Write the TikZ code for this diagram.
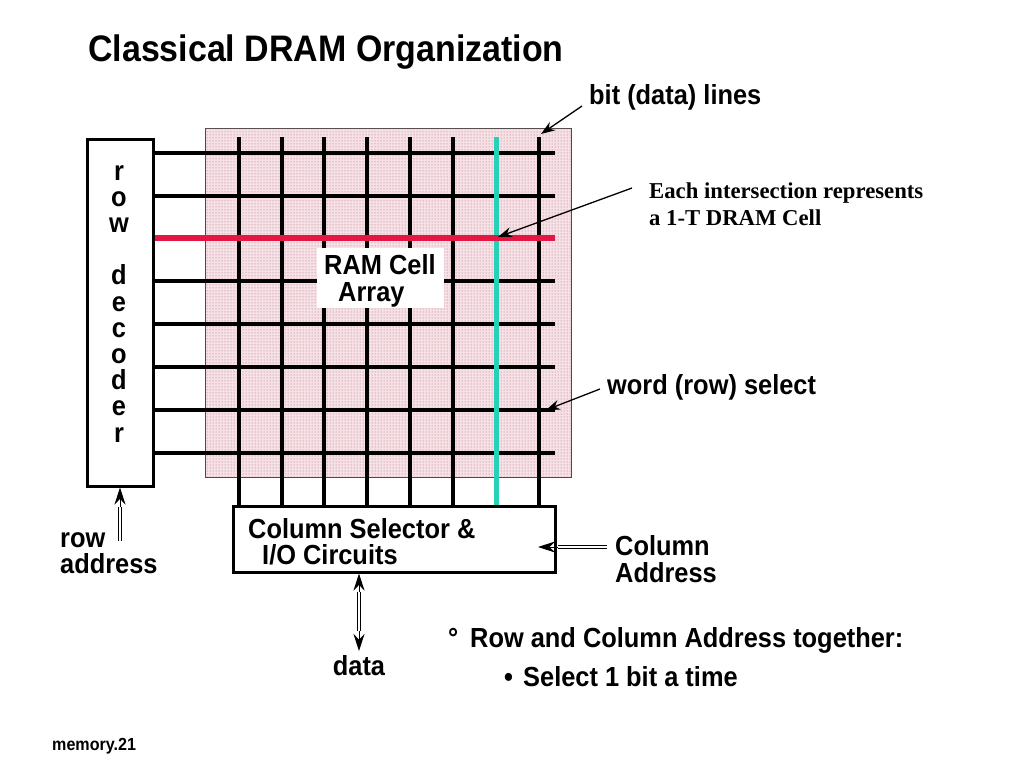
\documentclass[tikz,border=0pt]{standalone}
\usepackage{fontspec}
\setmainfont{Liberation Sans}[FakeStretch=0.92]
\newfontfamily\serifb{Liberation Serif}
\usetikzlibrary{arrows.meta,patterns}
\definecolor{wordred}{RGB}{228,22,68}
\definecolor{bitcyan}{RGB}{40,208,182}
\definecolor{arraypink}{RGB}{246,226,230}
\definecolor{dotpink}{RGB}{170,95,115}
\tikzset{
  lbl/.style={font=\bfseries\fontsize{27.6}{30}\selectfont, inner sep=0pt, anchor=base west},
  wire/.style={line width=3.2pt, black},
  boxline/.style={line width=3pt, draw=black, fill=white},
  ptr/.style={line width=1.3pt, -{Stealth[length=14pt,width=10pt]}},
  dblline/.style={line width=1.1pt, double distance=2.6pt, draw=black, double=white},
  tip/.style={line width=1pt, -{Stealth[length=17pt,width=11pt]}},
}
\begin{document}
\begin{tikzpicture}[x=1pt,y=-1pt]
\useasboundingbox (0,0) rectangle (1024,768);
% title
\node[lbl, font=\bfseries\fontsize{36.9}{40}\selectfont] (title) at (88,61) {Classical DRAM Organization};
% array
\node[draw=black!70, line width=0.8pt, fill=arraypink, minimum width=366pt, minimum height=349pt, inner sep=0pt, anchor=north west] (array) at (205,128) {};
\fill[pattern=dots, pattern color=dotpink] (205.5,128.5) rectangle (570.5,476.5);
% decoder
\node[boxline, minimum width=66pt, minimum height=347pt, inner sep=0pt, anchor=north west] (dec) at (86,137.5) {};
% column selector
\node[boxline, minimum width=322pt, minimum height=66pt, inner sep=0pt, anchor=north west] (col) at (232,504.5) {};
% word lines
\foreach \y in {153,196,281,324,367,410,453}{
  \coordinate (wl\y) at (555,\y);
  \draw[wire] (dec.east |- wl\y) -- (wl\y);
}
% bit lines
\foreach \x in {239,282,324,367,410,453,539}{
  \coordinate (bl\x) at (\x,137);
  \draw[wire] (bl\x) -- (bl\x |- col.north);
}
\coordinate (cyantop) at (496,137);
\draw[line width=5pt, bitcyan] (cyantop) -- (cyantop |- col.north);
\coordinate (redend) at (555,238);
\draw[line width=5.5pt, wordred] (dec.east |- redend) -- (redend);
% RAM cell label
\node[fill=white, minimum width=127pt, minimum height=60pt, inner sep=0pt, anchor=north west] (ramlbl) at (317,248) {};
\node[lbl] (ram1) at (324,274) {RAM Cell};
\node[lbl] (ram2) at (338,301) {Array};
% decoder letters
\foreach \c [count=\i from 0] in {r,o,w,{},d,e,c,o,d,e,r}{
  \node[font=\bfseries\fontsize{27.6}{30}\selectfont, inner sep=0pt, anchor=base] (dl\i) at (119,{180+26.2*\i}) {\c};
}
% labels
\node[lbl] (bitl) at (589,104) {bit (data) lines};
\node[font=\serifb\bfseries\fontsize{22.7}{27}\selectfont, inner sep=0pt, anchor=base west] (each1) at (649,198) {Each intersection represents};
\node[font=\serifb\bfseries\fontsize{22.7}{27}\selectfont, inner sep=0pt, anchor=base west] (each2) at (649,225) {a 1-T DRAM Cell};
\node[lbl] (wsel) at (607,394) {word (row) select};
\node[lbl] (cs1) at (248,538) {Column Selector \&};
\node[lbl] (cs2) at (262,564) {I/O Circuits};
\node[lbl] (ra1) at (60,547) {row};
\node[lbl] (ra2) at (60,573) {address};
\node[lbl] (ca1) at (615,555) {Column};
\node[lbl] (ca2) at (615,582) {Address};
\node[lbl, anchor=base] (data) at (359,675) {data};
\node[lbl] (deg) at (448,647) {°};
\node[lbl] (rc) at (470,647) {Row and Column Address together:};
\node[lbl] (bul) at (504,686) {•};
\node[lbl] (sel) at (523,686) {Select 1 bit a time};
\node[font=\bfseries\fontsize{17.5}{20}\selectfont, inner sep=0pt, anchor=base west] (mem) at (52,750) {memory.21};
% pointer arrows
\coordinate (bitarrow) at (541,134);
\draw[ptr] (582,106) -- (bitarrow);
\coordinate (cell) at (498,237);
\draw[ptr] (632,188) -- (cell);
\coordinate (wordarrow) at (546,410);
\draw[ptr] (600,389) -- (wordarrow);
% double arrows
\coordinate (raTail) at (120,541);
\coordinate (raMid) at (120,507);
\draw[dblline] (raTail) -- (raMid);
\draw[tip] (raMid) -- (raMid |- dec.south);
\coordinate (caTail) at (607,547);
\coordinate (caMid) at (558,547);
\draw[dblline] (caTail) -- (caMid);
\draw[tip] (caMid) -- (538,547);
\coordinate (dTop) at (359,592);
\coordinate (dBot) at (359,631);
\draw[dblline] (dTop) -- (dBot);
\draw[tip] (dTop) -- (dTop |- col.south);
\draw[tip] (dBot) -- (359,651);
\end{tikzpicture}
\end{document}
